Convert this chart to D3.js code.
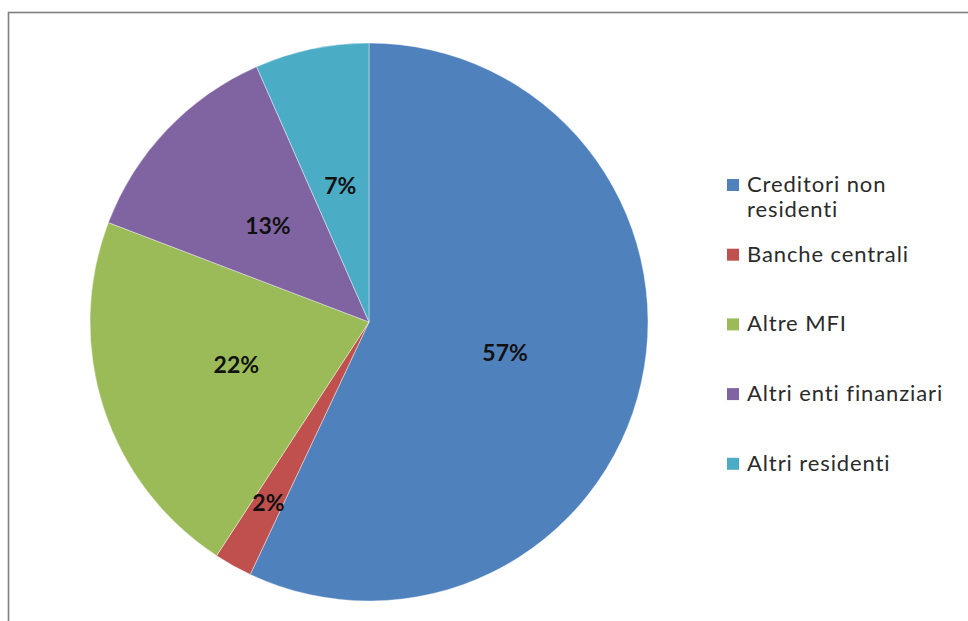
<!DOCTYPE html>
<html>
<head>
<meta charset="utf-8">
<script src="https://cdn.jsdelivr.net/npm/d3@7"></script>
<style>
  html, body { margin: 0; padding: 0; background: #ffffff; }
  svg { display: block; }
</style>
</head>
<body>
<svg id="chart" width="968" height="621"></svg>
<script>
// Creditor shares (percent of total)
const categories = ["Creditori non residenti", "Banche centrali", "Altre MFI", "Altri enti finanziari", "Altri residenti"];
const legendLines = [["Creditori non", "residenti"], ["Banche centrali"], ["Altre MFI"], ["Altri enti finanziari"], ["Altri residenti"]];
const shares = [57.0, 2.2, 21.6, 12.6, 6.6];
const colors = ["#4F81BD", "#C0504D", "#9BBB59", "#8064A2", "#4BACC6"];

const svg = d3.select("#chart");
const W = 968, H = 621;

// chart frame (top and left edges visible)
svg.append("rect")
  .attr("x", 8.5).attr("y", 12.5)
  .attr("width", W + 10).attr("height", H + 10)
  .attr("fill", "#ffffff")
  .attr("stroke", "#808080")
  .attr("stroke-width", 1.6);

const cx = 369, cy = 322, R = 279;
const total = d3.sum(shares);

const data = categories.map((c, i) => ({ name: c, value: shares[i], color: colors[i] }));

const pie = d3.pie().value(d => d.value).sort(null);
const arcs = pie(data);
const arc = d3.arc().innerRadius(0).outerRadius(R);

const g = svg.append("g").attr("transform", `translate(${cx},${cy})`);

g.selectAll("path.slice")
  .data(arcs)
  .enter().append("path")
  .attr("class", "slice")
  .attr("d", arc)
  .attr("fill", d => d.data.color)
  .attr("stroke", "#ffffff")
  .attr("stroke-opacity", 0.5)
  .attr("stroke-width", 0.8);

// data labels: inside the slice, pushed outward for very thin slices
const pct = d3.format(".0%");
g.selectAll("text.lbl")
  .data(arcs)
  .enter().append("text")
  .attr("class", "lbl")
  .attr("transform", d => {
    const frac = d.data.value / total;
    const r = frac < 0.05 ? R * 0.74 : R * 0.5;
    const a = (d.startAngle + d.endAngle) / 2;
    return `translate(${r * Math.sin(a)},${-r * Math.cos(a)})`;
  })
  .attr("text-anchor", "middle")
  .attr("dy", "0.36em")
  .attr("font-family", "Lato, 'Open Sans', sans-serif")
  .attr("font-weight", "bold")
  .attr("font-size", 23)
  .attr("fill", "#111111")
  .text(d => pct(d.data.value / total));

// legend
const legend = svg.append("g").attr("transform", "translate(727,192)");
const rowGap = 69.7;
const item = legend.selectAll("g.item")
  .data(data)
  .enter().append("g")
  .attr("class", "item")
  .attr("transform", (d, i) => `translate(0,${i * rowGap})`);

item.append("rect")
  .attr("x", 0).attr("y", -13)
  .attr("width", 12).attr("height", 12)
  .attr("fill", d => d.color);

item.append("text")
  .attr("x", 20)
  .attr("font-family", "Lato, 'Open Sans', sans-serif")
  .attr("font-size", 22)
  .attr("letter-spacing", 0.9)
  .attr("fill", "#2b2b2b")
  .each(function(d, i) {
    const t = d3.select(this);
    legendLines[i].forEach((line, k) => {
      t.append("tspan").attr("x", 20).attr("y", k * 25).text(line);
    });
  });
</script>
</body>
</html>
